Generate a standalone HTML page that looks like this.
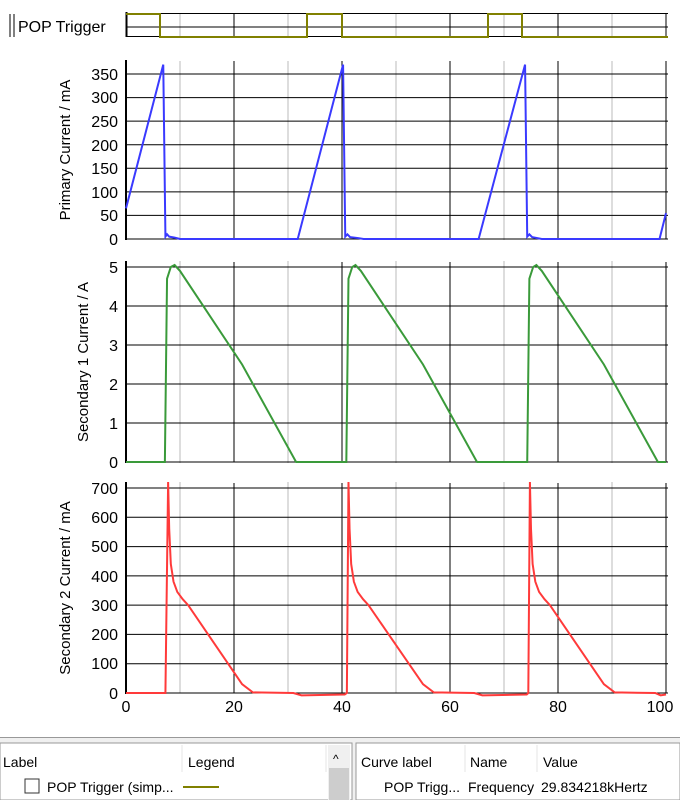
<!DOCTYPE html>
<html><head><style>
body{margin:0;width:680px;height:800px;background:#fff;overflow:hidden;font-family:"Liberation Sans",sans-serif}
svg text{font-family:"Liberation Sans",sans-serif}
</style></head><body>
<svg width="680" height="800" xmlns="http://www.w3.org/2000/svg">
<g font-size="16" fill="#000">
<line x1="10" y1="14" x2="10" y2="37" stroke="#000"/><line x1="14" y1="14" x2="14" y2="37" stroke="#000"/>
<text x="18" y="32">POP Trigger</text>
<g stroke="#bbb"><line x1="180" y1="13" x2="180" y2="37"/><line x1="288" y1="13" x2="288" y2="37"/><line x1="396" y1="13" x2="396" y2="37"/><line x1="504" y1="13" x2="504" y2="37"/><line x1="612" y1="13" x2="612" y2="37"/></g>
<g stroke="#000"><line x1="234" y1="13" x2="234" y2="37"/><line x1="342" y1="13" x2="342" y2="37"/><line x1="450" y1="13" x2="450" y2="37"/><line x1="558" y1="13" x2="558" y2="37"/><line x1="666" y1="13" x2="666" y2="37"/>
<line x1="126" y1="13.5" x2="668" y2="13.5"/><line x1="126" y1="27" x2="668" y2="27"/><line x1="126" y1="36.5" x2="668" y2="36.5"/></g>
<line x1="126.5" y1="12" x2="126.5" y2="37" stroke="#000" stroke-width="2"/>
<polyline fill="none" stroke="#808000" stroke-width="2" points="126,14 160,14 160,37 307,37 307,14 342,14 342,37 488,37 488,14 522,14 522,37 668,37"/>

<g stroke="#bbb"><line x1="180" y1="61" x2="180" y2="693"/><line x1="288" y1="61" x2="288" y2="693"/><line x1="396" y1="61" x2="396" y2="693"/><line x1="504" y1="61" x2="504" y2="693"/><line x1="612" y1="61" x2="612" y2="693"/></g>
<g stroke="#000"><line x1="234" y1="61" x2="234" y2="239"/><line x1="342" y1="61" x2="342" y2="239"/><line x1="450" y1="61" x2="450" y2="239"/><line x1="558" y1="61" x2="558" y2="239"/><line x1="666" y1="61" x2="666" y2="239"/>
<line x1="234" y1="262" x2="234" y2="462"/><line x1="342" y1="262" x2="342" y2="462"/><line x1="450" y1="262" x2="450" y2="462"/><line x1="558" y1="262" x2="558" y2="462"/><line x1="666" y1="262" x2="666" y2="462"/>
<line x1="234" y1="483" x2="234" y2="693"/><line x1="342" y1="483" x2="342" y2="693"/><line x1="450" y1="483" x2="450" y2="693"/><line x1="558" y1="483" x2="558" y2="693"/><line x1="666" y1="483" x2="666" y2="693"/></g>
<rect x="127" y="240" width="550" height="21" fill="#fff"/>
<rect x="127" y="463" width="550" height="19" fill="#fff"/>

<g stroke="#000">
<line x1="126" y1="74" x2="668" y2="74"/><line x1="126" y1="97.6" x2="668" y2="97.6"/><line x1="126" y1="121.1" x2="668" y2="121.1"/><line x1="126" y1="144.7" x2="668" y2="144.7"/><line x1="126" y1="168.3" x2="668" y2="168.3"/><line x1="126" y1="191.9" x2="668" y2="191.9"/><line x1="126" y1="215.4" x2="668" y2="215.4"/><line x1="126" y1="239" x2="668" y2="239"/>
</g>
<line x1="126" y1="60" x2="126" y2="240" stroke="#000" stroke-width="2"/>
<g text-anchor="end"><text x="118" y="80">350</text><text x="118" y="103">300</text><text x="118" y="127">250</text><text x="118" y="151">200</text><text x="118" y="174">150</text><text x="118" y="198">100</text><text x="118" y="221">50</text><text x="118" y="245">0</text></g>
<text transform="translate(70,150) rotate(-90)" text-anchor="middle" font-size="15">Primary Current / mA</text>
<g transform="translate(126,239) scale(5.4,-0.4714)"><polyline fill="none" stroke="#3a3aff" stroke-width="2" vector-effect="non-scaling-stroke" points="0,65 6.9,370 7.3,5 7.6,10 8,5 9,3 10,0 31.8,0 40.2,370 40.6,5 41,10 41.5,4 43,2 44,0 65.3,0 73.9,370 74.3,5 74.7,10 75.2,4 77,0 98.8,0 100,55"/></g>

<g stroke="#000"><line x1="126" y1="267" x2="668" y2="267"/><line x1="126" y1="306" x2="668" y2="306"/><line x1="126" y1="345" x2="668" y2="345"/><line x1="126" y1="384" x2="668" y2="384"/><line x1="126" y1="423" x2="668" y2="423"/><line x1="126" y1="462" x2="668" y2="462"/></g>
<line x1="126" y1="261" x2="126" y2="463" stroke="#000" stroke-width="2"/>
<g text-anchor="end"><text x="118" y="273">5</text><text x="118" y="312">4</text><text x="118" y="351">3</text><text x="118" y="390">2</text><text x="118" y="429">1</text><text x="118" y="468">0</text></g>
<text transform="translate(88,362) rotate(-90)" text-anchor="middle" font-size="15">Secondary 1 Current / A</text>
<g transform="translate(126,462) scale(5.4,-39)"><polyline fill="none" stroke="#3a9a3a" stroke-width="2" vector-effect="non-scaling-stroke" points="0,0 7.2,0 7.6,4.7 8.3,5.0 9,5.05 10,4.9 21.5,2.5 31.5,0 40.8,0 41.2,4.7 41.9,5.0 42.5,5.05 43.5,4.9 55,2.5 65,0 74.3,0 74.7,4.7 75.4,5 76,5.05 77,4.9 88.5,2.5 98.5,0 100,0"/></g>

<g stroke="#000"><line x1="126" y1="488" x2="668" y2="488"/><line x1="126" y1="517.3" x2="668" y2="517.3"/><line x1="126" y1="546.6" x2="668" y2="546.6"/><line x1="126" y1="575.9" x2="668" y2="575.9"/><line x1="126" y1="605.1" x2="668" y2="605.1"/><line x1="126" y1="634.4" x2="668" y2="634.4"/><line x1="126" y1="663.7" x2="668" y2="663.7"/><line x1="126" y1="693" x2="668" y2="693"/></g>
<line x1="126" y1="482" x2="126" y2="694" stroke="#000" stroke-width="2"/>
<g text-anchor="end"><text x="118" y="494">700</text><text x="118" y="523">600</text><text x="118" y="552">500</text><text x="118" y="582">400</text><text x="118" y="611">300</text><text x="118" y="640">200</text><text x="118" y="669">100</text><text x="118" y="699">0</text></g>
<text transform="translate(70,588) rotate(-90)" text-anchor="middle" font-size="15">Secondary 2 Current / mA</text>
<g transform="translate(126,693) scale(5.4,-0.293)"><polyline fill="none" stroke="#ff3a3a" stroke-width="2" vector-effect="non-scaling-stroke" points="0,0 7.3,0 7.8,720 8.0,560 8.3,440 8.8,380 9.5,345 10.5,320 11.5,300 21.5,30 23.5,2 31,0 32.5,-8 40.5,-5 40.9,0 41.2,720 41.4,560 41.7,440 42.2,380 42.9,345 43.9,320 44.9,300 55,30 57,2 64.5,0 66,-8 74.2,-5 74.5,0 74.8,720 75,560 75.3,440 75.8,380 76.5,345 77.5,320 78.5,300 88.5,30 90.5,2 98,0 99,-8 100,-5"/></g>
<g text-anchor="middle"><text x="126" y="712">0</text><text x="234" y="712">20</text><text x="342" y="712">40</text><text x="450" y="712">60</text><text x="558" y="712">80</text><text x="660" y="712">100</text></g>

<rect x="0" y="737" width="680" height="63" fill="#f0f0f0"/>
<rect x="0" y="743" width="352" height="57" fill="#fff" stroke="#999"/>
<rect x="356" y="743" width="324" height="57" fill="#fff" stroke="#999"/>
<line x1="0" y1="737.5" x2="680" y2="737.5" stroke="#999"/>
<g font-size="14">
<text x="3" y="767">Label</text><text x="188" y="767">Legend</text>
<line x1="182" y1="745" x2="182" y2="772" stroke="#e5e5e5"/><line x1="326" y1="745" x2="326" y2="772" stroke="#e5e5e5"/>
<rect x="328" y="745" width="22" height="55" fill="#f0f0f0"/><text x="333" y="763" font-size="12">^</text>
<rect x="329" y="768" width="20" height="32" fill="#cdcdcd"/>
<rect x="25" y="779" width="14" height="14" fill="#fff" stroke="#333"/>
<text x="47" y="792">POP Trigger (simp...</text>
<line x1="183" y1="787" x2="219" y2="787" stroke="#808000" stroke-width="2"/>
<text x="361" y="767">Curve label</text><text x="470" y="767">Name</text><text x="543" y="767">Value</text>
<line x1="465" y1="745" x2="465" y2="772" stroke="#e5e5e5"/><line x1="537" y1="745" x2="537" y2="772" stroke="#e5e5e5"/>
<text x="384" y="792">POP Trigg...</text><text x="468" y="792">Frequency</text><text x="541" y="792">29.834218kHertz</text>
</g>
</g>
</svg>
</body></html>
